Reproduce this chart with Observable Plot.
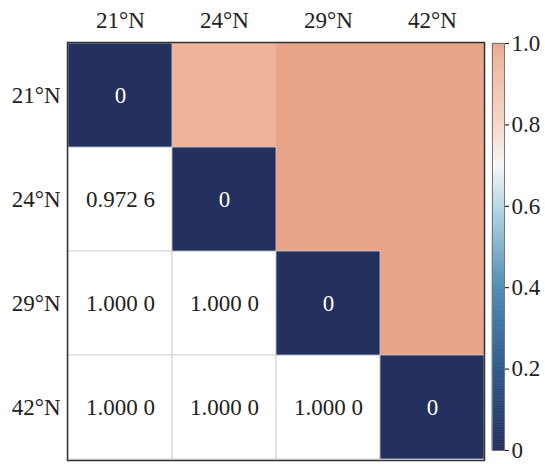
<!DOCTYPE html>
<html><head><meta charset="utf-8">
<script src="https://cdn.jsdelivr.net/npm/d3@7"></script>
<script src="https://cdn.jsdelivr.net/npm/@observablehq/plot@0.6"></script>
<style>
body{margin:0;background:#fff}
#wrap{position:relative;width:545px;height:464px;font-family:'Liberation Serif',serif}
#wrap > div, #wrap > svg{position:absolute;top:0}
#wrap svg text{font-family:'Liberation Serif','Times New Roman',serif !important}
</style>
</head><body><div id="wrap"></div>
<script>
const sites = ["21°N","24°N","29°N","42°N"];
const row21 = [0, 0.9726, 1.0000, 1.0000];
const row24 = [0.9726, 0, 1.0000, 1.0000];
const row29 = [1.0000, 1.0000, 0, 1.0000];
const row42 = [1.0000, 1.0000, 1.0000, 0];
const colorStops = [0, 0.2, 0.4, 0.6, 0.7, 0.8, 0.97, 1.0];
const colorRange = ["#24305e", "#2f5a8b", "#4d8db4", "#b7d8e7", "#f7f7f7", "#f6d8c9", "#eeb59d", "#e8a58a"];
const colorTicks = [0, 0.2, 0.4, 0.6, 0.8, 1.0];

const rows = [row21, row24, row29, row42];
const cells = [];
rows.forEach((r, i) => r.forEach((v, j) => cells.push({row: sites[i], col: sites[j], i, j, value: v})));
const upper = cells.filter(d => d.j > d.i);
const lower = cells.filter(d => d.j < d.i);
const diag = cells.filter(d => d.j === d.i);
const fmt = v => v === 0 ? "0" : (() => { const s = v.toFixed(4); return s.slice(0, 5) + " " + s.slice(5); })();

const color = {type: "linear", domain: colorStops, range: colorRange, interpolate: "rgb"};
const FS = 23;
const font = {fontFamily: "'Liberation Serif', 'Times New Roman', serif", fontSize: FS + "px", background: "transparent"};

const main = Plot.plot({
  width: 490, height: 464,
  marginLeft: 67, marginRight: 6, marginTop: 42, marginBottom: 4,
  style: font,
  x: {domain: sites, padding: 0, axis: null, label: null},
  y: {domain: sites, padding: 0, axis: null, label: null},
  color,
  marks: [
    Plot.cell(upper, {x: "col", y: "row", fill: "value", inset: 0}),
    Plot.cell(lower, {x: "col", y: "row", fill: "white", stroke: "#d4d4d4", strokeWidth: 1}),
    Plot.cell(diag, {x: "col", y: "row", fill: "value", stroke: "#c8ccd6", strokeWidth: 0.8}),
    Plot.text(lower, {x: "col", y: "row", text: d => fmt(d.value), fill: "#222", fontSize: FS}),
    Plot.text(diag, {x: "col", y: "row", text: d => fmt(d.value), fill: "white", fontSize: FS}),
    Plot.axisX({anchor: "top", label: null, tickSize: 0, tickPadding: 15, fontSize: FS, fill: "#222"}),
    Plot.axisY({anchor: "left", label: null, tickSize: 0, tickPadding: 7, fontSize: FS, fill: "#222"}),
    Plot.frame({stroke: "#333", strokeWidth: 1.5})
  ]
});
main.style.left = "0px";
document.getElementById("wrap").appendChild(main);

const steps = d3.range(240);
const bar = Plot.plot({
  width: 65, height: 464,
  marginLeft: 12, marginRight: 41, marginTop: 43, marginBottom: 14,
  style: font,
  x: {domain: [0, 1], axis: null},
  y: {domain: [0, 1], axis: null},
  color,
  marks: [
    Plot.rect(steps, {x1: 0, x2: 1, y1: i => i / 240, y2: i => (i + 1) / 240,
      fill: i => (i + 0.5) / 240, stroke: i => (i + 0.5) / 240, strokeWidth: 0.6}),
    Plot.axisY({anchor: "right", label: null, ticks: colorTicks, tickSize: 4, tickPadding: 3, fontSize: FS, fill: "#222",
      tickFormat: v => v === 0 ? "0" : v.toFixed(1)}),
    Plot.frame({stroke: "#777", strokeWidth: 1})
  ]
});
bar.style.left = "480px";
document.getElementById("wrap").appendChild(bar);
</script>
</body></html>
